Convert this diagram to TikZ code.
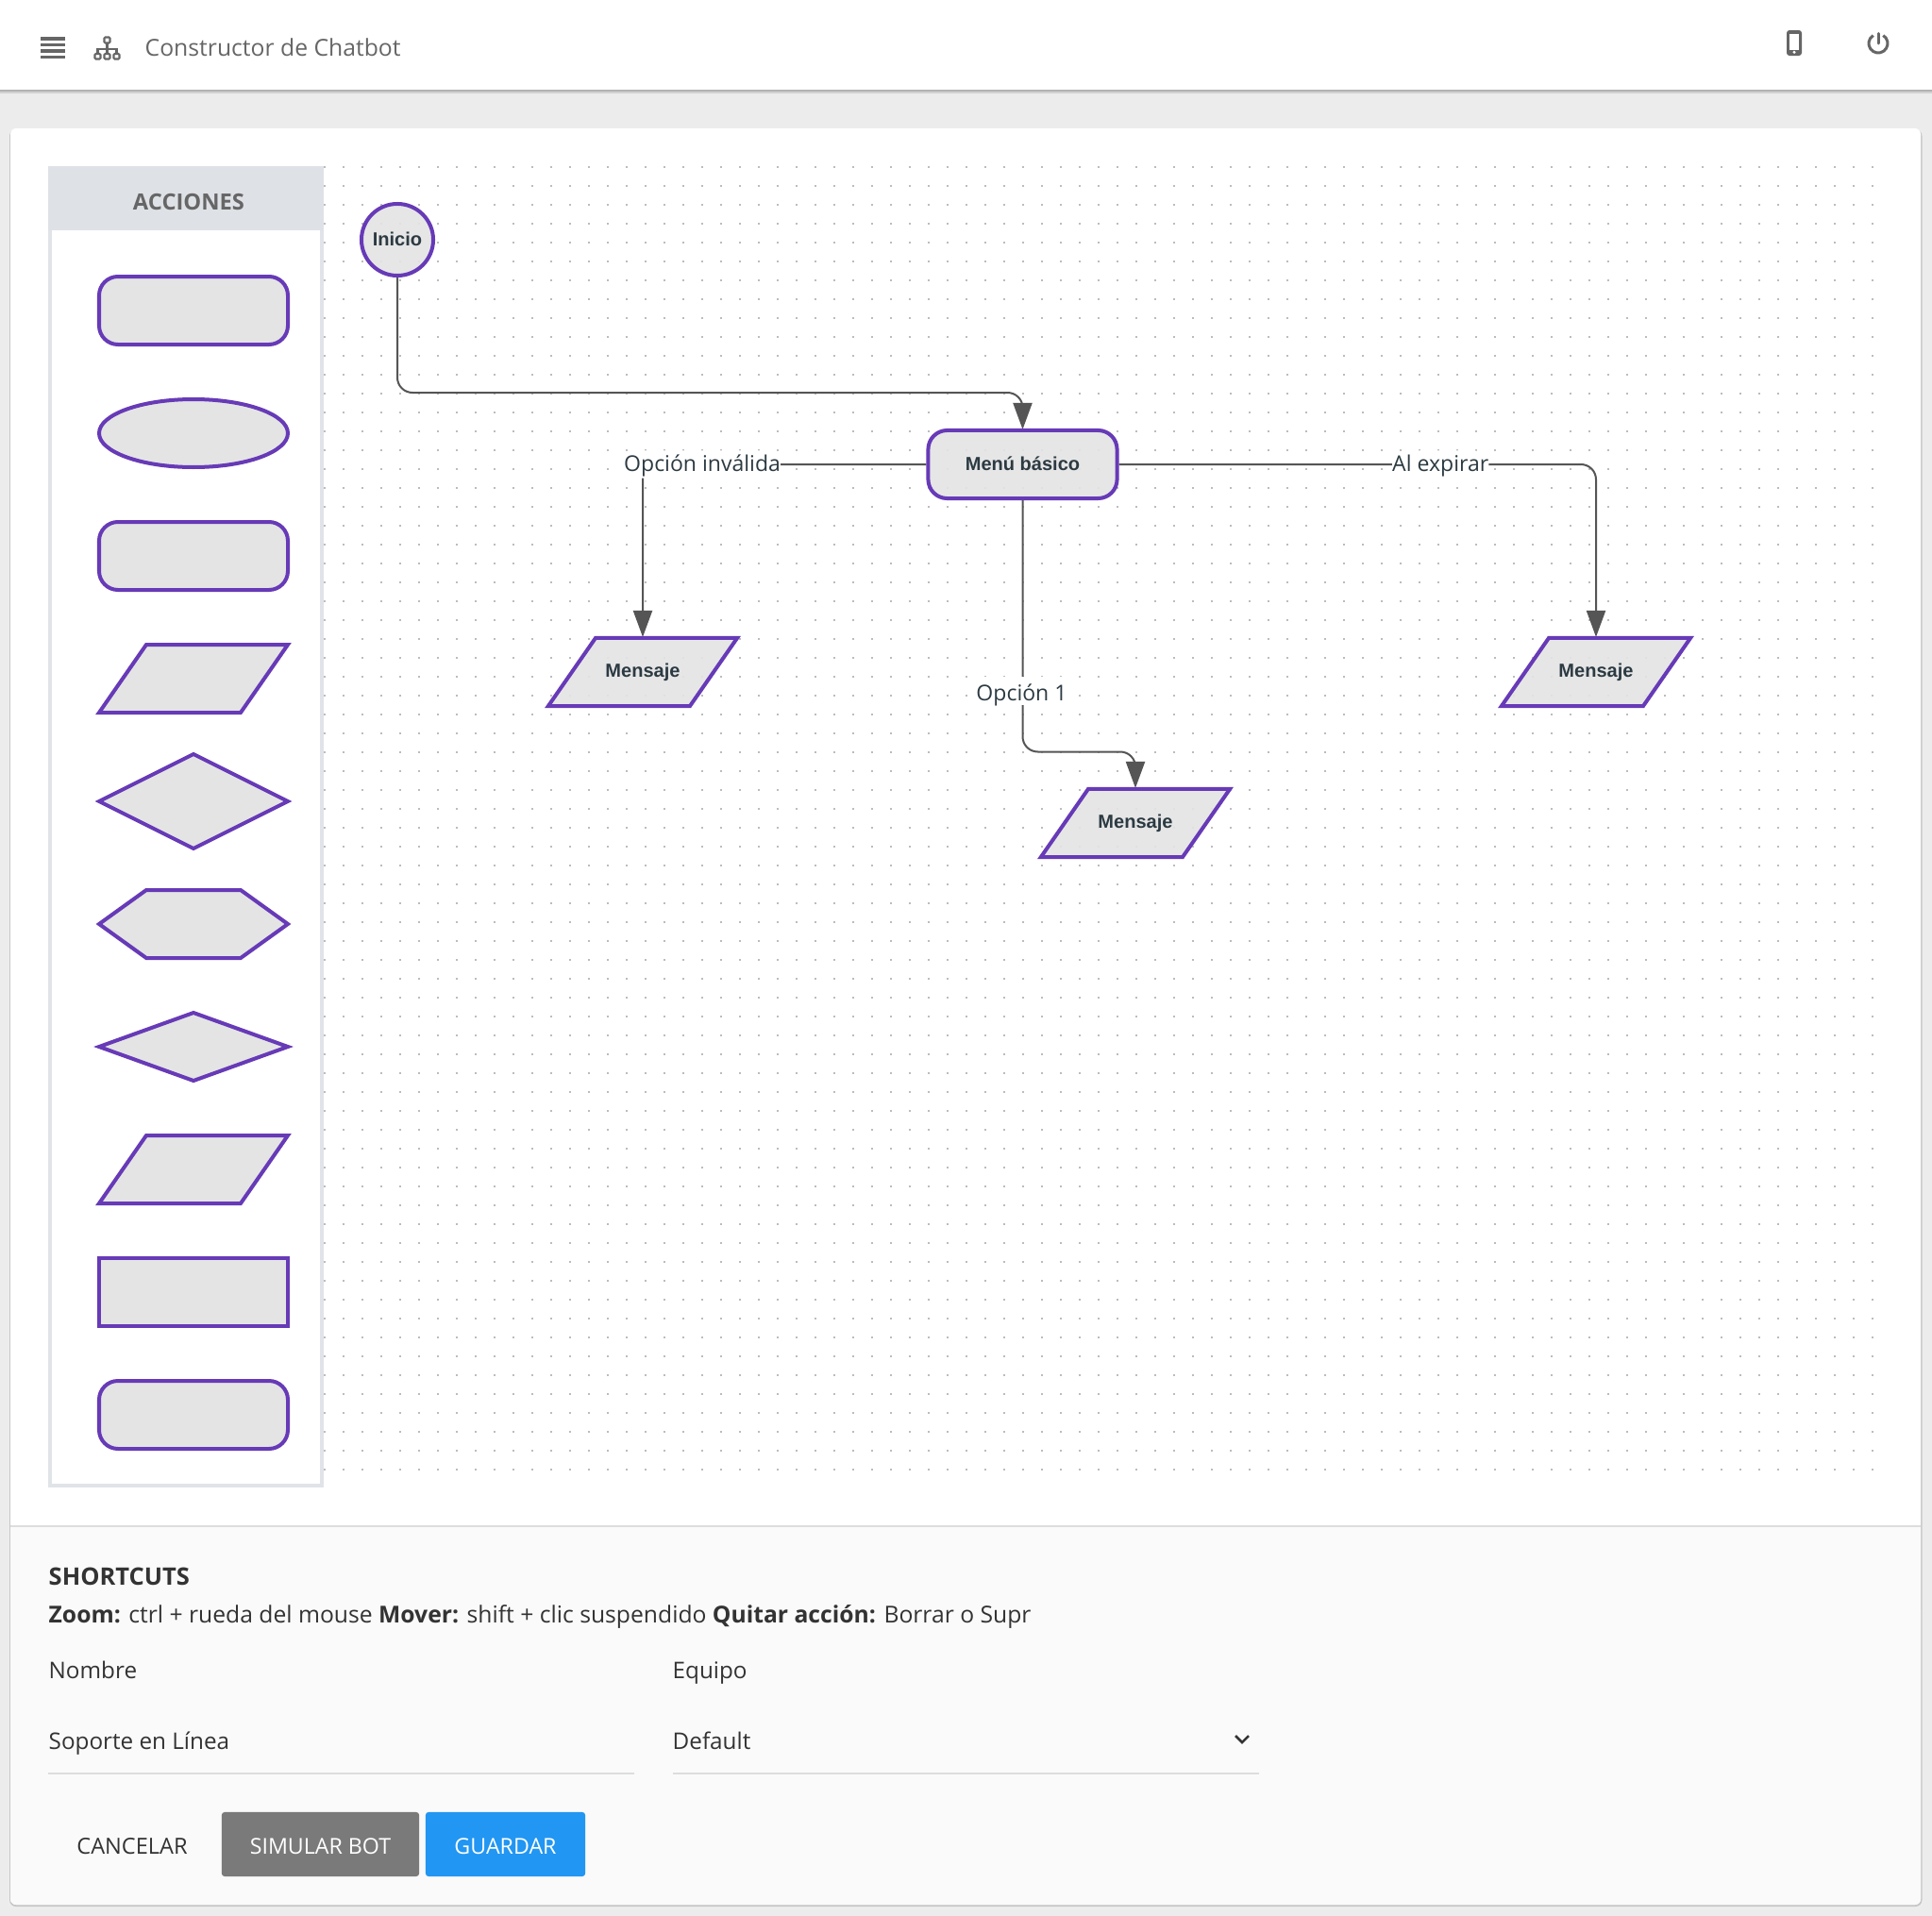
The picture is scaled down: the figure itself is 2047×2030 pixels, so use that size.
\documentclass[tikz,border=0pt]{standalone}
\usepackage{fontspec}
\setmainfont{Open Sans}
\newfontfamily\arialfont{Liberation Sans}
\usetikzlibrary{arrows.meta,shapes.geometric}
\definecolor{pagegray}{HTML}{ECECEC}
\definecolor{purpleline}{HTML}{673AB7}
\definecolor{shapegray}{HTML}{E4E4E4}
\definecolor{edgegray}{HTML}{555555}
\definecolor{icongray}{HTML}{666666}
\definecolor{headgray}{HTML}{DEE1E6}
\definecolor{sideline}{HTML}{E0E4E8}
\definecolor{dotgray}{HTML}{BCBCBC}
\definecolor{footgray}{HTML}{FAFAFA}
\definecolor{ruleline}{HTML}{DCDDDE}
\definecolor{textdark}{HTML}{333333}
\definecolor{slatetext}{HTML}{2C3A42}
\definecolor{buttongray}{HTML}{7A7A7A}
\definecolor{buttonblue}{HTML}{2196F3}
\tikzset{
  flownode/.style={draw=purpleline,fill=shapegray,fill opacity=.92,text opacity=1,line width=.04cm,inner sep=0,text depth=.02cm,text=slatetext,font=\arialfont\bfseries\fontsize{5.7}{7}\selectfont},
  startnode/.style={flownode,circle,minimum size=.76cm},
  menunode/.style={flownode,rounded corners=.2cm,minimum width=2cm,minimum height=.72cm},
  msgnode/.style={flownode,trapezium,trapezium left angle=55.2,trapezium right angle=124.8,text width=1cm,align=center,text height=.14cm,text depth=.04cm,inner ysep=.27cm},
  paletteshape/.style={draw=purpleline,fill=shapegray,line width=.04cm},
  edge/.style={draw=edgegray,line width=.02cm,rounded corners=.16cm,shorten >=-.01cm,-{Triangle[length=.28cm,width=.2cm]}},
  edgelabel/.style={fill=white,inner sep=0,text height=.22cm,text depth=.07cm,text=slatetext,font=\fontsize{6.55}{8}\selectfont},
  uitext/.style={inner sep=0,anchor=base west,text=textdark,font=\fontsize{6.9}{8}\selectfont},
  uibold/.style={uitext,font=\bfseries\fontsize{6.9}{8}\selectfont},
  button/.style={rounded corners=.03cm,minimum height=.68cm,inner sep=0,text height=.2cm,text depth=0cm,text=white,font=\fontsize{6.6}{8}\selectfont}
}
\begin{document}
\begin{tikzpicture}[x=.01cm,y=-.01cm]
\useasboundingbox (0,0) rectangle (2047,2030);
%%%%% Page %%%%%
\fill[pagegray] (0,0) rectangle (2047,2030);
\fill[black!30] (0,95) rectangle (2047,97);
\fill[black!18] (0,97) rectangle (2047,99);
\fill[white] (0,0) rectangle (2047,95);
\fill[black!7,rounded corners=.07cm] (8,136) rectangle (2038,2022);
\fill[black!22,rounded corners=.07cm] (10,137) rectangle (2036.5,2020);
\fill[white,rounded corners=.06cm] (11,136) rectangle (2035,2018);
\fill[footgray,rounded corners=.06cm] (11,1700) rectangle (2035,2018);
\fill[footgray] (11,1617) rectangle (2035,1720);
\draw[ruleline,line width=.02cm] (11,1617)--(2035,1617);
%%%%% Top bar %%%%%
\foreach \y in {41,47.5,54,60.5}{
\draw[icongray,line width=.035cm] (43,\y)--(69,\y);
}
\draw[icongray,line width=.02cm] (113.5,45.5)--(113.5,57) (103.5,57)--(103.5,52)--(123.5,52)--(123.5,57);
\draw[icongray,line width=.02cm,rounded corners=.01cm] (110.5,39.5) rectangle (116.5,45.5);
\foreach \x in {103.5,113.5,123.5}{
\draw[icongray,line width=.02cm,rounded corners=.01cm] (\x-3,57) rectangle (\x+3,62.5);
}
\node[uitext,text=icongray,font=\fontsize{7.03}{8}\selectfont] (title) at (153,59) {Constructor de Chatbot};
\fill[icongray,rounded corners=.03cm] (1893,32) rectangle (1909,59);
\fill[white] (1896,36) rectangle (1906,52.5);
\fill[white] (1901,55.3) circle (1.7);
\draw[icongray,line width=.03cm,line cap=round] (1990,35.5)--(1990,46);
\draw[icongray,line width=.03cm] (1990,46)++(-58:10) arc[start angle=-58,end angle=238,radius=10];
%%%%% Canvas dots %%%%%
\foreach \x in {344,364,...,1984}{
\foreach \y in {177,197,...,1557}{
\fill[dotgray] (\x-1,\y-1) rectangle +(2,2);
}
}
%%%%% Palette %%%%%
\fill[white] (51,176) rectangle (343,1576);
\draw[sideline,line width=.04cm] (53,244)--(53,1574)--(341,1574)--(341,244);
\fill[headgray] (51,176) rectangle (343,244);
\node[uibold,anchor=base,text=icongray,font=\bfseries\fontsize{6.75}{8}\selectfont] (acciones) at (200,222) {ACCIONES};
\foreach \y in {329,589,1499}{
\draw[paletteshape,rounded corners=.2cm] (105,\y-36) rectangle (305,\y+36);
}
\draw[paletteshape] (205,459) ellipse [x radius=100,y radius=36];
\foreach \y in {719,1239}{
\draw[paletteshape] (155,\y-36)--(305,\y-36)--(255,\y+36)--(105,\y+36)--cycle;
}
\draw[paletteshape] (205,799)--(305,849)--(205,899)--(105,849)--cycle;
\draw[paletteshape] (155,943)--(255,943)--(305,979)--(255,1015)--(155,1015)--(105,979)--cycle;
\draw[paletteshape] (205,1073)--(305,1109)--(205,1145)--(105,1109)--cycle;
\draw[paletteshape] (105,1333) rectangle (305,1405);
%%%%% Flow %%%%%
\node[startnode] (inicio) at (421,254) {Inicio};
\node[menunode] (menu) at (1083.5,492) {Menú básico};
\node[msgnode] (msgleft) at (681,712) {Mensaje};
\node[msgnode] (msgmid) at (1203,872) {Mensaje};
\node[msgnode] (msgright) at (1691,712) {Mensaje};
\coordinate (bendstart) at (750,416);
\coordinate (bendmid) at (1143,796.5);
\draw[edge] (inicio.south) |- (bendstart) -| (menu.north);
\draw[edge] (menu.west) -| (msgleft.north) node[edgelabel,pos=.395] (lblinvalid) {Opción inválida};
\draw[edge] (menu.east) -| (msgright.north) node[edgelabel,pos=.337] (lblexpira) {Al expirar};
\draw[edge] (menu.south) |- (bendmid) -| (msgmid.north);
\node[edgelabel,text height=.25cm,text depth=.05cm] (lbluno) at (1082.5,732) {Opción 1};
%%%%% Footer %%%%%
\node[uibold,font=\bfseries\fontsize{7.25}{8}\selectfont] (shortcuts) at (51,1679) {SHORTCUTS};
\node[uitext,font=\fontsize{7.02}{8}\selectfont] (ayuda) at (51,1719) {\textbf{Zoom:} ctrl + rueda del mouse \textbf{Mover:} shift + clic suspendido \textbf{Quitar acción:} Borrar o Supr};
\node[uitext] (nombre) at (51,1778) {Nombre};
\node[uitext] (equipo) at (712,1778) {Equipo};
\node[uitext] (soporte) at (51,1853) {Soporte en Línea};
\node[uitext] (default) at (712,1853) {Default};
\draw[ruleline,line width=.02cm] (51,1879)--(672,1879);
\draw[ruleline,line width=.02cm] (713,1879)--(1334,1879);
\draw[textdark,line width=.025cm] (1309,1839)--(1316,1846)--(1323,1839);
\node[uitext,anchor=base,font=\fontsize{6.7}{8}\selectfont] (cancelar) at (140,1964) {CANCELAR};
\node[button,fill=buttongray,minimum width=2.09cm] (simular) at (339.5,1954) {SIMULAR BOT};
\node[button,fill=buttonblue,minimum width=1.69cm] (guardar) at (535.5,1954) {GUARDAR};
\end{tikzpicture}
\end{document}
